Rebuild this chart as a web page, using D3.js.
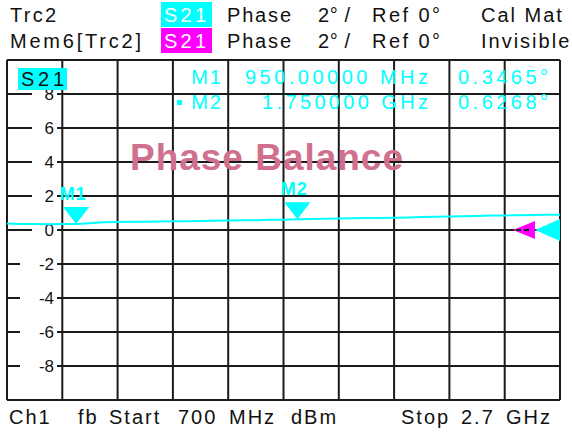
<!DOCTYPE html>
<html>
<head>
<meta charset="utf-8">
<script src="https://cdn.jsdelivr.net/npm/d3@7"></script>
<style>
  body { margin: 0; background: #fff; }
  text { font-family: "Liberation Sans", Arial, sans-serif; }
</style>
</head>
<body>
<div id="chart"></div>
<script>
// chart size
var width = 572;
var height = 432;

// trace data: frequency (MHz) and phase (deg)
var freqMHz = [700, 750, 800, 850, 900, 950, 1000, 1050, 1100, 1150, 1200, 1250, 1300, 1350,
  1400, 1450, 1500, 1550, 1600, 1650, 1700, 1750, 1800, 1850, 1900, 1950, 2000, 2050,
  2100, 2150, 2200, 2250, 2300, 2350, 2400, 2450, 2500, 2550, 2600, 2650, 2700];
var phaseDeg = [0.38, 0.36, 0.35, 0.34, 0.36, 0.3465, 0.40, 0.45, 0.47, 0.48, 0.49, 0.50, 0.51, 0.52,
  0.53, 0.54, 0.56, 0.57, 0.58, 0.60, 0.61, 0.6268, 0.64, 0.66, 0.67, 0.69, 0.70, 0.71,
  0.72, 0.74, 0.76, 0.78, 0.80, 0.81, 0.83, 0.85, 0.86, 0.87, 0.88, 0.89, 0.90];

// markers
var markerNames = ["M1", "M2"];
var markerFreqs = [950, 1750];
var markerVals = [0.3465, 0.6268];
var markerFreqLabels = ["950.00000 MHz", "1.750000 GHz"];
var markerValLabels = ["0.3465°", "0.6268°"];

// y tick labels
var yTickVals = [8, 6, 4, 2, 0, -2, -4, -6, -8];

var cyan = "#00ffff";
var magenta = "#ff00ff";

var svg = d3.select("#chart").append("svg")
  .attr("width", width)
  .attr("height", height);

svg.append("rect").attr("width", width).attr("height", height).attr("fill", "#fff");

var x = d3.scaleLinear().domain([700, 2700]).range([7, 560]);
var y = d3.scaleLinear().domain([-10, 10]).range([400, 60]);

// header lines
function headerText(str, px, py, opts) {
  var t = svg.append("text")
    .attr("x", px).attr("y", py)
    .attr("font-size", 20)
    .attr("letter-spacing", 2)
    .attr("fill", "#111")
    .text(str);
  if (opts && opts.fill) t.attr("fill", opts.fill);
  if (opts && opts.len) t.attr("textLength", opts.len).attr("lengthAdjust", "spacing");
  return t;
}

headerText("Trc2", 10, 22, {len: 48});
headerText("Mem6[Trc2]", 10, 48, {len: 133});
svg.append("rect").attr("x", 161).attr("y", 2).attr("width", 51).attr("height", 25).attr("fill", cyan);
svg.append("rect").attr("x", 161).attr("y", 28).attr("width", 51).attr("height", 25).attr("fill", magenta);
headerText("S21", 164, 22, {fill: "#fff", len: 44});
headerText("S21", 164, 48, {fill: "#fff", len: 44});
[22, 48].forEach(function(by) {
  headerText("Phase", 227, by, {len: 66});
  headerText("2° /", 318, by, {len: 34});
  headerText("Ref 0°", 372, by, {len: 70});
});
headerText("Cal Mat", 481, 22);
headerText("Invisible", 481, 48);

// grid
var grid = svg.append("g");
grid.selectAll("line.v")
  .data(d3.range(700, 2701, 200))
  .enter().append("line")
  .attr("x1", function(d) { return x(d); })
  .attr("x2", function(d) { return x(d); })
  .attr("y1", y(10)).attr("y2", y(-10))
  .attr("stroke", "#1a1a1a").attr("stroke-width", 2);
grid.selectAll("line.h")
  .data(d3.range(-10, 11, 2))
  .enter().append("line")
  .attr("x1", x(700)).attr("x2", x(2700))
  .attr("y1", function(d) { return y(d); })
  .attr("y2", function(d) { return y(d); })
  .attr("stroke", "#1a1a1a").attr("stroke-width", 2);

// y tick labels with white backing
var yl = svg.append("g").selectAll("g")
  .data(yTickVals)
  .enter().append("g");
yl.append("rect")
  .attr("x", function(d) { return d < 0 ? 20 : 32; })
  .attr("y", function(d) { return y(d) - 3; })
  .attr("width", function(d) { return d < 0 ? 37 : 25; })
  .attr("height", 6)
  .attr("fill", "#fff");
yl.append("text")
  .attr("x", 54)
  .attr("y", function(d) { return y(d) + 6; })
  .attr("text-anchor", "end")
  .attr("font-size", 17)
  .attr("fill", "#111")
  .text(function(d) { return d; });

// S21 label in plot
svg.append("rect").attr("x", 18).attr("y", 68).attr("width", 49).attr("height", 22).attr("fill", cyan);
svg.append("text").attr("x", 21).attr("y", 86).attr("font-size", 20)
  .attr("textLength", 43).attr("lengthAdjust", "spacing").attr("fill", "#111").text("S21");

// marker table
var table = svg.append("g").attr("fill", cyan).attr("font-size", 20);
markerNames.forEach(function(name, i) {
  var by = 84 + i * 25;
  table.append("text").attr("x", 223).attr("y", by).attr("text-anchor", "end")
    .attr("letter-spacing", 2).text(name);
  table.append("text").attr("x", 428 - (i === 0 ? 183 : 166)).attr("y", by)
    .attr("textLength", i === 0 ? 183 : 166).attr("lengthAdjust", "spacing")
    .text(markerFreqLabels[i]);
  table.append("text").attr("x", 458).attr("y", by)
    .attr("textLength", 90).attr("lengthAdjust", "spacing")
    .text(markerValLabels[i]);
});
table.append("rect").attr("x", 177).attr("y", 100).attr("width", 5).attr("height", 5).attr("fill", cyan);

// title
svg.append("text")
  .attr("x", 130).attr("y", 170)
  .attr("font-size", 37).attr("font-weight", "bold")
  .attr("textLength", 273).attr("lengthAdjust", "spacing")
  .attr("fill", "#d0708e")
  .text("Phase Balance");

// trace
var line = d3.line()
  .x(function(d) { return x(d[0]); })
  .y(function(d) { return y(d[1]); });
svg.append("path")
  .datum(d3.zip(freqMHz, phaseDeg))
  .attr("d", line)
  .attr("fill", "none")
  .attr("stroke", cyan)
  .attr("stroke-width", 2);

// marker triangles
var mk = svg.append("g").selectAll("g")
  .data(d3.zip(markerNames, markerFreqs, markerVals))
  .enter().append("g")
  .attr("transform", function(d) { return "translate(" + x(d[1]) + "," + y(d[2]) + ")"; });
mk.append("path")
  .attr("d", "M-13,-17 L13,-17 L0,0 Z")
  .attr("fill", cyan);
mk.append("text")
  .attr("x", -3).attr("y", -24)
  .attr("text-anchor", "middle")
  .attr("font-size", 18).attr("font-weight", "bold")
  .attr("letter-spacing", 1)
  .attr("fill", cyan)
  .text(function(d) { return d[0]; });

// reference level arrows at right edge
svg.append("path")
  .attr("d", "M" + 513 + "," + y(0) + " L535," + (y(0) - 9) + " L535," + (y(0) + 9) + " Z")
  .attr("fill", magenta);
svg.append("line")
  .attr("x1", 516).attr("x2", 532).attr("y1", y(0)).attr("y2", y(0))
  .attr("stroke", "#222").attr("stroke-width", 2).attr("stroke-dasharray", "5,3");
svg.append("path")
  .attr("d", "M" + 535 + "," + y(0) + " L560," + (y(0) - 11) + " L560," + (y(0) + 11) + " Z")
  .attr("fill", cyan);

// footer
var foot = [["Ch1", 9], ["fb", 78], ["Start", 109], ["700", 178], ["MHz", 229],
  ["dBm", 291], ["Stop", 401], ["2.7", 461], ["GHz", 506]];
foot.forEach(function(f) {
  headerText(f[0], f[1], 424);
});
</script>
</body>
</html>
